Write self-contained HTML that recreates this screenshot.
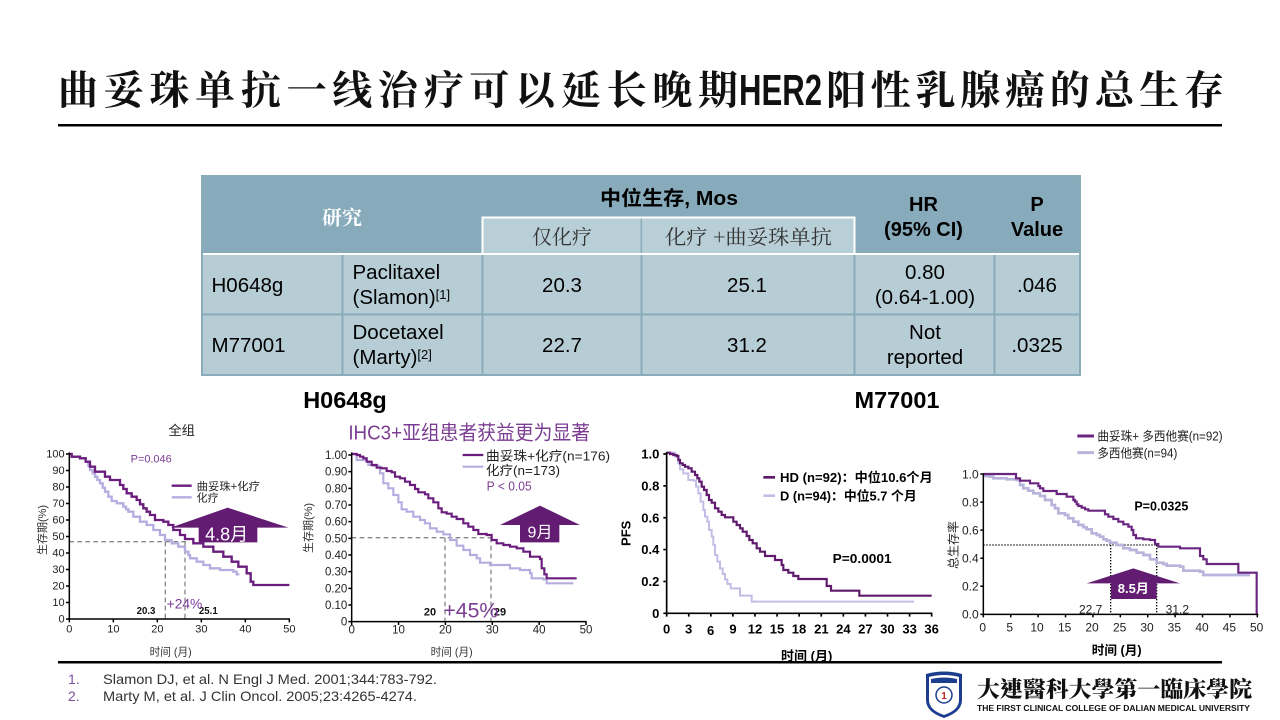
<!DOCTYPE html>
<html><head><meta charset="utf-8"><style>
html,body{margin:0;padding:0;background:#fff;width:1280px;height:720px;overflow:hidden}
svg{display:block}
</style></head><body>
<svg width="1280" height="720" viewBox="0 0 1280 720" xmlns="http://www.w3.org/2000/svg" font-family="'Liberation Sans','Noto Sans CJK SC',sans-serif">
<rect width="1280" height="720" fill="#fff"/>
<!-- Title -->
<g fill="#111">
<text x="58" y="104" font-size="40" font-weight="700" font-family="'Noto Serif CJK SC',serif" textLength="680" lengthAdjust="spacing">曲妥珠单抗一线治疗可以延长晚期</text>
<text x="739" y="105" font-size="44" font-weight="700" font-family="'Liberation Sans',sans-serif" textLength="83" lengthAdjust="spacingAndGlyphs">HER2</text>
<text x="826" y="104" font-size="40" font-weight="700" font-family="'Noto Serif CJK SC',serif" textLength="398" lengthAdjust="spacing">阳性乳腺癌的总生存</text>
</g>
<rect x="58" y="124" width="1164" height="2.5" fill="#000"/>

<!-- Table -->
<rect x="202" y="176" width="878" height="78" fill="#87abbb"/>
<rect x="202" y="254" width="878" height="121" fill="#b7cdd6"/>
<rect x="483" y="217.5" width="371" height="36.5" fill="#b9cfd8"/>
<rect x="483" y="216.5" width="372" height="2" fill="#fff"/>
<rect x="481.5" y="216.5" width="2" height="38" fill="#fff"/>
<rect x="853.5" y="216.5" width="2" height="38" fill="#fff"/>
<rect x="640.5" y="218.5" width="1.6" height="35" fill="#8aacbb"/>
<rect x="202" y="253" width="878" height="2" fill="#fff"/>
<g fill="#89abba">
<rect x="341.5" y="255" width="2" height="120"/>
<rect x="481.5" y="255" width="2" height="120"/>
<rect x="640.5" y="255" width="2" height="120"/>
<rect x="853.5" y="255" width="2" height="120"/>
<rect x="993.5" y="255" width="2" height="120"/>
<rect x="202" y="313.5" width="878" height="2"/>
</g>
<rect x="202" y="176" width="878" height="199" fill="none" stroke="#89abba" stroke-width="2"/>

<text x="342" y="224.5" font-size="20" font-weight="700" fill="#fff" text-anchor="middle" font-family="'Noto Serif CJK SC',serif">研究</text>
<text x="600" y="205" font-size="20" font-weight="700" fill="#000" textLength="138" lengthAdjust="spacingAndGlyphs">中位生存, Mos</text>
<text x="562" y="244" font-size="20" fill="#333" text-anchor="middle" font-family="'Noto Serif CJK SC',serif">仅化疗</text>
<text x="665" y="244" font-size="20" fill="#333" font-family="'Noto Serif CJK SC',serif" textLength="167" lengthAdjust="spacingAndGlyphs">化疗 +曲妥珠单抗</text>
<g font-size="20" font-weight="700" fill="#000" text-anchor="middle">
<text x="923.5" y="211">HR</text>
<text x="923.5" y="236">(95% CI)</text>
<text x="1037" y="211">P</text>
<text x="1037" y="236">Value</text>
</g>
<g font-size="20.5" fill="#000">
<text x="211.5" y="292">H0648g</text>
<text x="352.5" y="279">Paclitaxel</text>
<text x="352.5" y="304">(Slamon)<tspan font-size="13" dy="-5">[1]</tspan></text>
<text x="211.5" y="352">M77001</text>
<text x="352.5" y="339">Docetaxel</text>
<text x="352.5" y="364">(Marty)<tspan font-size="13" dy="-5">[2]</tspan></text>
<g text-anchor="middle">
<text x="562" y="292">20.3</text>
<text x="747" y="292">25.1</text>
<text x="925" y="279">0.80</text>
<text x="925" y="304">(0.64-1.00)</text>
<text x="1037" y="292">.046</text>
<text x="562" y="352">22.7</text>
<text x="747" y="352">31.2</text>
<text x="925" y="339">Not</text>
<text x="925" y="364">reported</text>
<text x="1037" y="352">.0325</text>
</g>
</g>

<!-- Section headings -->
<g font-size="23.5" font-weight="700" fill="#000" text-anchor="middle">
<text x="345" y="408">H0648g</text>
<text x="897" y="408">M77001</text>
</g>

<!-- y-axis titles for charts 1,2 -->
<text transform="translate(46,530) rotate(-90)" font-size="11" fill="#333" text-anchor="middle">生存期(%)</text>
<text transform="translate(312,528) rotate(-90)" font-size="11" fill="#333" text-anchor="middle">生存期(%)</text>

<!-- Chart 1 -->
<svg x="40" y="415" width="270" height="250" viewBox="0 0 810 750" overflow="visible">
<text x="425" y="60" font-size="40" fill="#222" text-anchor="middle">全组</text>
<!-- dashed -->
<g stroke="#888" stroke-width="4" stroke-dasharray="14 10" fill="none">
<path d="M88 380 H440"/><path d="M376 380 V612"/><path d="M435 380 V612"/>
</g>
<!-- curves -->
<path fill="none" stroke="#b4aee0" stroke-width="7" d="M88 117 H95 V125 H120 V130 H137 V140 H145 V152 H150 V165 H158 V175 H165 V185 H172 V195 H180 V205 H188 V218 H195 V230 H205 V245 H215 V258 H230 V265 H250 V275 H258 V283 H265 V290 H280 V305 H300 V320 H320 V330 H340 V345 H360 V360 H375 V375 H395 V385 H415 V395 H435 V410 H445 V420 H450 V430 H470 V440 H490 V450 H510 V460 H540 V465 H580 V470 H590 V478 H598"/>
<path fill="none" stroke="#6a1d7d" stroke-width="7" d="M88 117 H95 V125 H120 V130 H137 V140 H150 V155 H165 V170 H195 V185 H210 V195 H240 V210 H250 V222 H260 V235 H275 V245 H290 V255 H300 V268 H310 V280 H320 V290 H330 V300 H345 V315 H370 V320 H385 V330 H400 V345 H420 V360 H435 V372 H460 V385 H490 V395 H520 V410 H550 V425 H575 V440 H595 V455 H620 V475 H632 V500 H640 V510 H748"/>
<!-- axes -->
<g stroke="#000" stroke-width="4.5" fill="none">
<path d="M88 112 V612 H750"/>
<path d="M78 612H88M78 562.5H88M78 513H88M78 463.5H88M78 414H88M78 364.5H88M78 315H88M78 265.5H88M78 216H88M78 166.5H88M78 117H88"/>
<path d="M88 612V622M220 612V622M352 612V622M484 612V622M616 612V622M748 612V622"/>
</g>
<g font-size="33" fill="#222" text-anchor="end">
<text x="74" y="623">0</text><text x="74" y="573.5">10</text><text x="74" y="524">20</text><text x="74" y="474.5">30</text><text x="74" y="425">40</text><text x="74" y="375.5">50</text><text x="74" y="326">60</text><text x="74" y="276.5">70</text><text x="74" y="227">80</text><text x="74" y="177.5">90</text><text x="74" y="128">100</text>
</g>
<g font-size="33" fill="#222" text-anchor="middle">
<text x="88" y="652">0</text><text x="220" y="652">10</text><text x="352" y="652">20</text><text x="484" y="652">30</text><text x="616" y="652">40</text><text x="748" y="652">50</text>
</g>
<text x="392" y="722" font-size="32" fill="#333" text-anchor="middle">时间 (月)</text>
<text x="272" y="142" font-size="33" fill="#7a3a95" textLength="123" lengthAdjust="spacingAndGlyphs">P=0.046</text>
<path d="M395 212 H455" stroke="#6a1d7d" stroke-width="7"/>
<path d="M395 247 H455" stroke="#b4aee0" stroke-width="7"/>
<text x="470" y="225" font-size="33" fill="#222" textLength="190" lengthAdjust="spacingAndGlyphs">曲妥珠+化疗</text>
<text x="470" y="260" font-size="33" fill="#222">化疗</text>
<polygon points="392,338 563,278 745,338 652,338 652,382 476,382 476,338" fill="#621c72"/>
<text x="560" y="376" font-size="54" fill="#fff" text-anchor="middle">4.8月</text>
<g font-size="29" font-weight="700" fill="#111" text-anchor="middle">
<text x="318" y="597">20.3</text><text x="505" y="597">25.1</text>
</g>
<text x="380" y="580" font-size="42" fill="#7a3a95" textLength="107" lengthAdjust="spacingAndGlyphs">+24%</text>
</svg>

<!-- Chart 2 -->
<svg x="310" y="415" width="290" height="250" viewBox="0 0 870 750" overflow="visible">
<text x="115" y="73" font-size="60" fill="#7b3d92" textLength="725" lengthAdjust="spacingAndGlyphs">IHC3+亚组患者获益更为显著</text>
<g stroke="#888" stroke-width="4" stroke-dasharray="14 10" fill="none">
<path d="M125 368 H545"/><path d="M405 368 V620"/><path d="M543 368 V620"/>
</g>
<path fill="none" stroke="#b4aee0" stroke-width="6.5" d="M125 117 H140 V135 H170 V140 H175 V150 H190 V152 H205 V155 H210 V175 H220 V205 H235 V220 H250 V240 H265 V262 H275 V283 H290 V290 H310 V305 H330 V315 H345 V325 H360 V340 H380 V350 H400 V358 H420 V375 H440 V392 H460 V405 H480 V420 H500 V430 H510 V443 H540 V450 H600 V460 H630 V465 H660 V475 H665 V490 H700 V493 H710 V505 H790"/>
<path fill="none" stroke="#6a1d7d" stroke-width="6.5" d="M125 117 H140 V120 H150 V125 H160 V130 H170 V140 H185 V150 H200 V158 H215 V160 H230 V168 H245 V172 H255 V185 H270 V190 H285 V200 H300 V210 H315 V222 H325 V232 H345 V238 H355 V250 H370 V262 H385 V280 H395 V292 H410 V296 H425 V305 H440 V312 H460 V325 H475 V335 H490 V345 H505 V357 H530 V360 H545 V375 H560 V385 H580 V390 H600 V395 H620 V400 H640 V410 H660 V425 H690 V432 H695 V460 H703 V478 H710 V490 H800"/>
<g stroke="#000" stroke-width="4.5" fill="none">
<path d="M125 112 V620 H830"/>
<path d="M115 620H125M115 570H125M115 520H125M115 470H125M115 420H125M115 370H125M115 320H125M115 270H125M115 220H125M115 170H125M115 120H125"/>
<path d="M125 620V630M265.6 620V630M406.2 620V630M546.8 620V630M687.4 620V630M828 620V630"/>
</g>
<g font-size="34.5" fill="#222" text-anchor="end">
<text x="112" y="632">0</text><text x="112" y="582">0.10</text><text x="112" y="532">0.20</text><text x="112" y="482">0.30</text><text x="112" y="432">0.40</text><text x="112" y="382">0.50</text><text x="112" y="332">0.60</text><text x="112" y="282">0.70</text><text x="112" y="232">0.80</text><text x="112" y="182">0.90</text><text x="112" y="132">1.00</text>
</g>
<g font-size="34.5" fill="#222" text-anchor="middle">
<text x="125" y="655">0</text><text x="265.6" y="655">10</text><text x="406.2" y="655">20</text><text x="546.8" y="655">30</text><text x="687.4" y="655">40</text><text x="828" y="655">50</text>
</g>
<text x="425" y="722" font-size="32" fill="#333" text-anchor="middle">时间 (月)</text>
<path d="M458 120 H520" stroke="#6a1d7d" stroke-width="6.5"/>
<path d="M458 155 H520" stroke="#b4aee0" stroke-width="6.5"/>
<text x="528" y="136" font-size="40" fill="#222" textLength="372" lengthAdjust="spacingAndGlyphs">曲妥珠+化疗(n=176)</text>
<text x="528" y="180" font-size="40" fill="#222" textLength="222" lengthAdjust="spacingAndGlyphs">化疗(n=173)</text>
<text x="530" y="226" font-size="38" fill="#7b3d92" textLength="135" lengthAdjust="spacingAndGlyphs">P &lt; 0.05</text>
<polygon points="570,330 690,272 810,330 748,330 748,382 630,382 630,330" fill="#621c72"/>
<text x="690" y="367" font-size="48" fill="#fff" text-anchor="middle">9月</text>
<g font-size="33" font-weight="700" fill="#111" text-anchor="middle">
<text x="360" y="602">20</text><text x="570" y="602">29</text>
</g>
<text x="400" y="607" font-size="64" fill="#7b3d92" textLength="165" lengthAdjust="spacingAndGlyphs">+45%</text>
</svg>

<!-- Chart 3 -->
<svg x="610" y="430" width="330" height="235" viewBox="0 0 990 705" overflow="visible">
<path fill="none" stroke="#c3bee6" stroke-width="6" d="M170 68 H195 V80 H205 V100 H210 V118 H220 V130 H235 V150 H250 V152 H258 V170 H265 V190 H272 V215 H280 V240 H285 V260 H292 V275 H297 V300 H305 V320 H310 V345 H315 V375 H322 V395 H330 V415 H338 V432 H345 V448 H352 V462 H362 V475 H390 V497 H425 V515 H912"/>
<path fill="none" stroke="#5f1a6e" stroke-width="6.5" d="M170 68 H180 V72 H190 V75 H200 V78 H205 V90 H210 V100 H218 V105 H225 V110 H235 V115 H245 V125 H255 V135 H262 V145 H268 V155 H275 V170 H282 V180 H290 V195 H297 V210 H305 V218 H315 V235 H325 V245 H335 V255 H345 V262 H370 V275 H380 V285 H390 V295 H398 V305 H410 V318 H418 V330 H428 V340 H440 V355 H450 V365 H465 V378 H495 V390 H515 V405 H520 V420 H535 V428 H550 V438 H565 V447 H650 V468 H663 V482 H748 V497 H965"/>
<g stroke="#000" stroke-width="5" fill="none">
<path d="M170 66 V550 H967"/>
<path d="M160 550H170M160 454.4H170M160 358.8H170M160 263.2H170M160 167.6H170M160 72H170"/>
<path d="M170 550V560M236.25 550V560M302.5 550V560M368.75 550V560M435 550V560M501.25 550V560M567.5 550V560M633.75 550V560M700 550V560M766.25 550V560M832.5 550V560M898.75 550V560M965 550V560"/>
</g>
<g font-size="39" font-weight="700" fill="#000" text-anchor="end">
<text x="148" y="564">0</text><text x="148" y="468">0.2</text><text x="148" y="372">0.4</text><text x="148" y="277">0.6</text><text x="148" y="181">0.8</text><text x="148" y="86">1.0</text>
</g>
<g font-size="39" font-weight="700" fill="#000" text-anchor="middle">
<text x="170" y="611">0</text><text x="236" y="611">3</text><text x="302" y="615">6</text><text x="369" y="611">9</text><text x="435" y="611">12</text><text x="501" y="611">15</text><text x="567" y="611">18</text><text x="634" y="611">21</text><text x="700" y="611">24</text><text x="766" y="611">27</text><text x="832" y="611">30</text><text x="899" y="611">33</text><text x="965" y="611">36</text>
</g>
<text transform="translate(62,310) rotate(-90)" font-size="39" font-weight="700" fill="#000" text-anchor="middle">PFS</text>
<text x="590" y="692" font-size="39" font-weight="700" fill="#000" text-anchor="middle">时间 (月)</text>
<path d="M460 142 H495" stroke="#5f1a6e" stroke-width="8"/>
<path d="M460 197 H495" stroke="#c3bee6" stroke-width="8"/>
<text x="510" y="156" font-size="39" font-weight="700" fill="#000" textLength="458" lengthAdjust="spacingAndGlyphs">HD (n=92)：中位10.6个月</text>
<text x="510" y="211" font-size="39" font-weight="700" fill="#000" textLength="410" lengthAdjust="spacingAndGlyphs">D (n=94)：中位5.7 个月</text>
<text x="668" y="399" font-size="40" font-weight="700" fill="#000" textLength="177" lengthAdjust="spacingAndGlyphs">P=0.0001</text>
</svg>

<!-- Chart 4 -->
<svg x="940" y="420" width="340" height="245" viewBox="0 0 1020 735" overflow="visible">
<g stroke="#000" stroke-width="4" stroke-dasharray="4 5" fill="none">
<path d="M130 375 H650"/><path d="M512 375 V583"/><path d="M650 375 V583"/>
</g>
<path fill="none" stroke="#b8b4dc" stroke-width="8" d="M130 168 H150 V170 H160 V175 H200 V178 H230 V180 H240 V195 H250 V205 H265 V212 H280 V220 H300 V228 H315 V240 H335 V255 H345 V265 H355 V280 H375 V285 H385 V295 H400 V305 H415 V315 H430 V322 H440 V328 H455 V340 H470 V345 H480 V350 H490 V358 H500 V362 H510 V368 H530 V375 H550 V385 H570 V390 H590 V398 H610 V405 H630 V418 H650 V428 H670 V432 H680 V437 H720 V440 H730 V452 H780 V455 H790 V465 H930"/>
<path fill="none" stroke="#6a2580" stroke-width="6.5" d="M130 162 H228 V175 H240 V182 H270 V190 H295 V198 H300 V205 H310 V213 H350 V222 H380 V230 H400 V240 H405 V245 H410 V253 H415 V258 H425 V263 H435 V268 H445 V272 H495 V283 H505 V290 H520 V297 H535 V305 H550 V313 H565 V320 H575 V330 H580 V345 H588 V355 H610 V358 H630 V360 H645 V372 H655 V380 H720 V385 H780 V408 H790 V418 H800 V432 H895 V458 H950 V583"/>
<g stroke="#000" stroke-width="4.5" fill="none">
<path d="M130 160 V583 H955"/>
<path d="M121 583H130M121 498.8H130M121 414.6H130M121 330.4H130M121 246.2H130M121 162H130"/>
<path d="M130 583V592M212.2 583V592M294.4 583V592M376.6 583V592M458.8 583V592M541 583V592M623.2 583V592M705.4 583V592M787.6 583V592M869.8 583V592M952 583V592"/>
</g>
<g font-size="36" fill="#222" text-anchor="end">
<text x="116" y="596">0.0</text><text x="116" y="512">0.2</text><text x="116" y="428">0.4</text><text x="116" y="343">0.6</text><text x="116" y="259">0.8</text><text x="116" y="175">1.0</text>
</g>
<g font-size="36" fill="#222" text-anchor="middle">
<text x="128" y="635">0</text><text x="209" y="635">5</text><text x="291" y="635">10</text><text x="374" y="635">15</text><text x="456" y="635">20</text><text x="539" y="635">25</text><text x="621" y="635">30</text><text x="703" y="635">35</text><text x="786" y="635">40</text><text x="868" y="635">45</text><text x="950" y="635">50</text>
</g>
<text transform="translate(52,375) rotate(-90)" font-size="36" fill="#222" text-anchor="middle">总生存率</text>
<text x="530" y="703" font-size="38" font-weight="700" fill="#000" text-anchor="middle">时间 (月)</text>
<path d="M412 48 H462" stroke="#6a2580" stroke-width="9"/>
<path d="M412 98 H462" stroke="#b8b4dc" stroke-width="9"/>
<text x="472" y="62" font-size="38" fill="#222" textLength="376" lengthAdjust="spacingAndGlyphs">曲妥珠+ 多西他赛(n=92)</text>
<text x="472" y="112" font-size="38" fill="#222" textLength="240" lengthAdjust="spacingAndGlyphs">多西他赛(n=94)</text>
<text x="583" y="271" font-size="38" font-weight="700" fill="#000" textLength="162" lengthAdjust="spacingAndGlyphs">P=0.0325</text>
<polygon points="440,490 580,445 720,490 650,490 650,537 513,537 513,490" fill="#621c72"/>
<text x="580" y="519" font-size="39" font-weight="700" fill="#fff" text-anchor="middle">8.5月</text>
<g font-size="36" fill="#222" text-anchor="middle">
<text x="452" y="581">22.7</text><text x="712" y="581">31.2</text>
</g>
</svg>

<!-- Footer -->
<rect x="58" y="661" width="1164" height="2.5" fill="#000"/>
<g font-size="14">
<text x="68" y="684" fill="#7b52a0">1.</text>
<text x="103" y="684" fill="#333" textLength="334" lengthAdjust="spacingAndGlyphs">Slamon DJ, et al. N Engl J Med. 2001;344:783-792.</text>
<text x="68" y="701" fill="#7b52a0">2.</text>
<text x="103" y="701" fill="#333" textLength="314" lengthAdjust="spacingAndGlyphs">Marty M, et al. J Clin Oncol. 2005;23:4265-4274.</text>
</g>
<!-- Logo -->
<path d="M926 674 Q944 669 962 674 L962 700 Q962 712 944 718 Q926 712 926 700 Z" fill="#1d3d8f"/>
<path d="M929 677 Q944 673 959 677 L959 700 Q959 710 944 715 Q929 710 929 700 Z" fill="#fff"/>
<path d="M931 679 Q944 676 957 679 L957 683 L931 683 Z" fill="#1d3d8f"/>
<circle cx="944" cy="695" r="8" fill="none" stroke="#1d3d8f" stroke-width="1.5"/>
<text x="944" y="699" font-size="10" font-weight="700" fill="#c0252d" text-anchor="middle">1</text>
<text x="977" y="697" font-size="22" font-weight="900" fill="#111" font-family="'Noto Serif CJK TC','Noto Serif CJK SC',serif" textLength="275" lengthAdjust="spacingAndGlyphs">大連醫科大學第一臨床學院</text>
<text x="977" y="711" font-size="8" font-weight="700" fill="#111" textLength="273" lengthAdjust="spacingAndGlyphs">THE FIRST CLINICAL COLLEGE OF DALIAN MEDICAL UNIVERSITY</text>
</svg>
</body></html>
